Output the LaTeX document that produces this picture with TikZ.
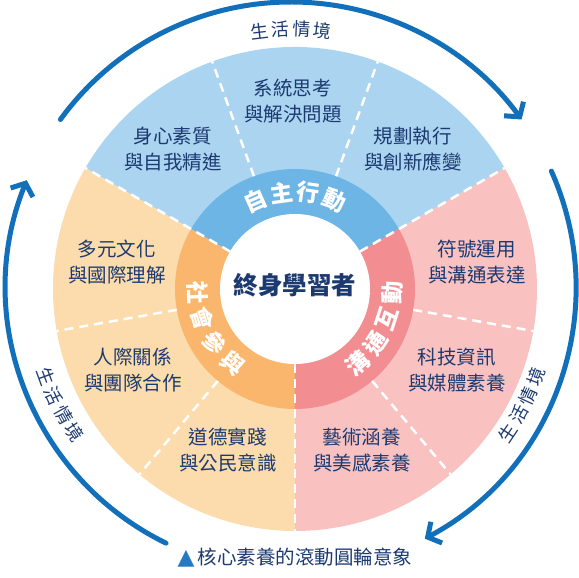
\documentclass[tikz,border=0pt]{standalone}
\usepackage{fontspec}
\setmainfont{Noto Sans CJK TC}
\newfontfamily\symfont{DejaVu Sans}
\usepackage{xcolor}
\usepackage{tikz}
\usetikzlibrary{arrows.meta}

\definecolor{skyout}{RGB}{171,212,240}
\definecolor{skyring}{RGB}{108,181,229}
\definecolor{sandout}{RGB}{252,220,172}
\definecolor{sandring}{RGB}{250,182,108}
\definecolor{roseout}{RGB}{249,194,193}
\definecolor{rosering}{RGB}{242,142,145}
\definecolor{navy}{RGB}{28,58,112}
\definecolor{arcblue}{RGB}{18,111,186}
\definecolor{triblue}{RGB}{38,122,196}

\begin{document}
\begin{tikzpicture}[x=1pt,y=1pt,
	lbl/.style={text=navy,align=center,inner sep=0pt,font=\fontsize{19.5}{26}\selectfont},
	ringtxt/.style={text=white,inner sep=0pt,font=\fontsize{23}{23}\selectfont\bfseries},
	ctx/.style={text=navy,inner sep=0pt,font=\fontsize{18}{18}\selectfont},
	cut/.style={white,line width=2.5pt,dash pattern=on 9pt off 6pt},
	flow/.style={arcblue,line width=5pt,line cap=round,-{Straight Barb[length=10pt,width=24pt]}}]
	\useasboundingbox (-295,-289) rectangle (284,289);

	% outer wedges
	\fill[skyout]  (0,0) -- (30:242)  arc[start angle=30,end angle=150,radius=242] -- cycle;
	\fill[sandout] (0,0) -- (150:242) arc[start angle=150,end angle=270,radius=242] -- cycle;
	\fill[roseout] (0,0) -- (270:242) arc[start angle=270,end angle=390,radius=242] -- cycle;
	% ring
	\fill[skyring]  (0,0) -- (30:120)  arc[start angle=30,end angle=150,radius=120] -- cycle;
	\fill[sandring] (0,0) -- (150:120) arc[start angle=150,end angle=270,radius=120] -- cycle;
	\fill[rosering] (0,0) -- (270:120) arc[start angle=270,end angle=390,radius=120] -- cycle;
	\fill[white] (0,0) circle[radius=75];

	% dashed cuts
	\foreach \a in {30,150,270}
		\draw[cut] (\a:75) -- (\a:242);
	\foreach \a in {70,110,-10,-50,190,230}
		\draw[cut] (\a:120) -- (\a:242);

	\node[font=\fontsize{24.5}{24.5}\selectfont\bfseries,text=navy,inner sep=0pt] (core) at (0,4) {終身學習者};

	% ring labels
	\foreach \ch [count=\i, evaluate=\i as \a using 130-16*\i] in {自,主,行,動}
		\node[ringtxt,rotate=\a-90] (top\i) at (\a:97) {\ch};
	\foreach \ch [count=\i, evaluate=\i as \a using -66+16*\i] in {溝,通,互,動}
		\node[ringtxt,rotate=\a+90] (rgt\i) at (\a:97) {\ch};
	\foreach \ch [count=\i, evaluate=\i as \a using 166+16*\i] in {社,會,參,與}
		\node[ringtxt,rotate=\a+90] (lft\i) at (\a:97) {\ch};

	% outer labels
	\node[lbl] (sys)  at (-2,188)    {系統思考\\與解決問題};
	\node[lbl] (body) at (-122,140)  {身心素質\\與自我精進};
	\node[lbl] (plan) at (118,140)   {規劃執行\\與創新應變};
	\node[lbl] (cult) at (-178,27)   {多元文化\\與國際理解};
	\node[lbl] (sign) at (182,27)    {符號運用\\與溝通表達};
	\node[lbl] (team) at (-162,-81)  {人際關係\\與團隊合作};
	\node[lbl] (tech) at (162,-81)   {科技資訊\\與媒體素養};
	\node[lbl] (moral) at (-67,-161) {道德實踐\\與公民意識};
	\node[lbl] (art)  at (67,-161)   {藝術涵養\\與美感素養};

	% life context arrows
	\begin{scope}[shift={(-4,2)}]
		\draw[flow] (144:285) arc[start angle=144,end angle=36,radius=285];
		\draw[flow] (24:285) arc[start angle=24,end angle=-62,radius=285];
		\draw[flow] (244:285) arc[start angle=244,end angle=158,radius=285];
		\foreach \ch [count=\i, evaluate=\i as \a using 101.5-4.6*\i] in {生,活,情,境}
			\node[ctx,rotate=\a-90] (ctxt\i) at (\a:258) {\ch};
		\foreach \ch [count=\i, evaluate=\i as \a using 195.5+4.6*\i] in {生,活,情,境}
			\node[ctx,rotate=\a+90] (ctxl\i) at (\a:261) {\ch};
		\foreach \ch [count=\i, evaluate=\i as \a using -38.5+4.6*\i] in {生,活,情,境}
			\node[ctx,rotate=\a+90] (ctxr\i) at (\a:261) {\ch};
	\end{scope}

	\node[lbl] (cap) at (0,-269) {{\symfont\fontsize{22}{22}\selectfont\color{triblue}▲}\,核心素養的滾動圓輪意象};
\end{tikzpicture}
\end{document}
